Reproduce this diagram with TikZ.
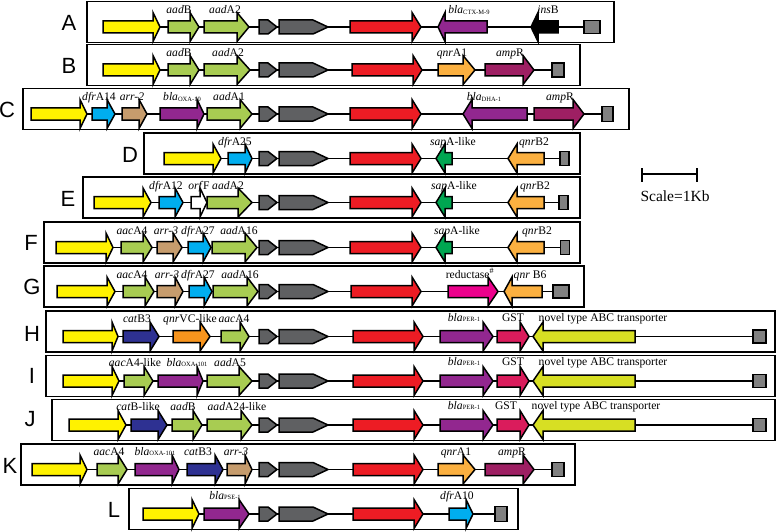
\documentclass[tikz,border=0pt]{standalone}
\usepackage{fontspec}
\setmainfont{Liberation Serif}
\newfontfamily\rowfont{Liberation Sans}
\usepackage{tikz}
\usetikzlibrary{positioning}
\definecolor{intyellow}{RGB}{255,242,0}
\definecolor{aadgreen}{RGB}{168,204,82}
\definecolor{tnpgray}{RGB}{95,96,98}
\definecolor{mercred}{RGB}{237,28,36}
\definecolor{blapurple}{RGB}{146,39,143}
\definecolor{qnrorange}{RGB}{251,176,64}
\definecolor{ampmaroon}{RGB}{158,31,99}
\definecolor{dfrblue}{RGB}{0,174,239}
\definecolor{arrtan}{RGB}{198,156,109}
\definecolor{sapgreen}{RGB}{0,166,81}
\definecolor{redpink}{RGB}{236,0,140}
\definecolor{catnavy}{RGB}{46,49,146}
\definecolor{vcorange}{RGB}{247,148,29}
\definecolor{gstred}{RGB}{218,28,92}
\definecolor{abcyellow}{RGB}{215,223,35}
\definecolor{endgray}{RGB}{128,128,128}
\tikzset{
    gene map/.style={
            x=1pt,y=-1pt,
            gene/.style={draw=black,line width=1.5pt},
            backbone/.style={draw,line width=1.6pt},
            rowbox/.style={draw,line width=1.8pt},
            rowname/.style={font=\rowfont\fontsize{22}{22}\selectfont},
            genename/.style={anchor=base,inner sep=0pt,font=\fontsize{11.6}{12}\selectfont},
            endbox/.style={draw,line width=1.5pt,fill=endgray,inner sep=0pt}
        }
    }
% forward gene: start, head base, tip, row y, colour
\newcommand{\fwdgene}[5]{\filldraw[gene,fill=#5] (#1,#4-6) -- (#2,#4-6) -- (#2,#4-14.5) -- (#3,#4) -- (#2,#4+14.5) -- (#2,#4+6) -- (#1,#4+6) -- cycle;}
% reverse gene: tip, head base, end, row y, colour
\newcommand{\revgene}[5]{\filldraw[gene,fill=#5] (#3,#4-6) -- (#2,#4-6) -- (#2,#4-14.5) -- (#1,#4) -- (#2,#4+14.5) -- (#2,#4+6) -- (#3,#4+6) -- cycle;}
% the two grey genes and the red one
\newcommand{\tnpcore}[4]{%
  \filldraw[gene,fill=tnpgray] (259,#1-7) -- (268,#1-7) -- (277,#1) -- (268,#1+7) -- (259,#1+7) -- cycle;
  \filldraw[gene,fill=tnpgray] (279,#1-7) -- (313,#1-7) -- (328,#1) -- (313,#1+7) -- (279,#1+7) -- cycle;
  \fwdgene{#2}{#3}{#4}{#1}{mercred}}
\newcommand{\blasub}[1]{\textit{bla}\raisebox{-0.8pt}{\fontsize{6.5}{7}\selectfont #1}}

\begin{document}
\begin{tikzpicture}[gene map]
    \useasboundingbox (0,0) rectangle (778,532);
    % A
    \node[rowname] (A) at (69,23) {A};
    \draw[rowbox] (87,1.5) rectangle (614,42.5);
    \coordinate (A-start) at (103,27);
    \node[endbox,minimum width=16pt,minimum height=13pt] (A-end) at (592,27) {};
    \draw[backbone] (A-start) -- (A-end);
    \fwdgene{103}{153}{160}{27}{intyellow}
    \fwdgene{168}{190}{199}{27}{aadgreen}
    \fwdgene{204}{237}{249}{27}{aadgreen}
    \tnpcore{27}{350}{412}{421}
    \revgene{438}{445}{487}{27}{blapurple}
    \revgene{531}{538}{558}{27}{black}
    \node[genename] (A-aadB) at (179,13.5) {\textit{aad}B};
    \node[genename] (A-aadA2) at (225,13.5) {\textit{aad}A2};
    \node[genename] (A-bla) at (469,13.5) {\blasub{CTX-M-9}};
    \node[genename] (A-insB) at (548,13.5) {\textit{ins}B};
    % B
    \node[rowname] (B) at (69,66) {B};
    \draw[rowbox] (87,44.5) rectangle (580,85.5);
    \coordinate (B-start) at (103,70);
    \node[endbox,minimum width=12pt,minimum height=14pt] (B-end) at (558,70) {};
    \draw[backbone] (B-start) -- (B-end);
    \fwdgene{103}{153}{160}{70}{intyellow}
    \fwdgene{168}{190}{199}{70}{aadgreen}
    \fwdgene{204}{237}{250}{70}{aadgreen}
    \tnpcore{70}{352}{413}{422}
    \fwdgene{438}{463}{475}{70}{qnrorange}
    \fwdgene{485}{523}{534}{70}{ampmaroon}
    \node[genename] (B-aadB) at (179,56.5) {\textit{aad}B};
    \node[genename] (B-aadA2) at (228,56.5) {\textit{aad}A2};
    \node[genename] (B-qnrA1) at (452,56.5) {\textit{qnr}A1};
    \node[genename] (B-ampR) at (510,56.5) {\textit{amp}R};
    % C
    \node[rowname] (C) at (7,110) {C};
    \draw[rowbox] (23,88.5) rectangle (629,129.5);
    \coordinate (C-start) at (31,114);
    \node[endbox,minimum width=11pt,minimum height=15pt] (C-end) at (607.5,114) {};
    \draw[backbone] (C-start) -- (C-end);
    \fwdgene{31}{80}{87}{114}{intyellow}
    \fwdgene{92}{107}{115}{114}{dfrblue}
    \fwdgene{122}{139}{147}{114}{arrtan}
    \fwdgene{160}{197}{204}{114}{blapurple}
    \fwdgene{207}{240}{252}{114}{aadgreen}
    \tnpcore{114}{350}{412}{421}
    \revgene{463}{472}{527}{114}{blapurple}
    \fwdgene{534}{573}{584}{114}{ampmaroon}
    \node[genename] (C-dfrA14) at (99,100.5) {\textit{dfr}A14};
    \node[genename] (C-arr2) at (132,100.5) {\textit{arr-2}};
    \node[genename] (C-bla) at (182,100.5) {\blasub{OXA-10}};
    \node[genename] (C-aadA1) at (229,100.5) {\textit{aad}A1};
    \node[genename] (C-bla2) at (484,100.5) {\blasub{DHA-1}};
    \node[genename] (C-ampR) at (560,100.5) {\textit{amp}R};
    % D
    \node[rowname] (D) at (130,155) {D};
    \draw[rowbox] (144,133) rectangle (580,174);
    \coordinate (D-start) at (164,158.5);
    \node[endbox,minimum width=9pt,minimum height=14pt] (D-end) at (564.5,158.5) {};
    \draw[backbone] (D-start) -- (D-end);
    \fwdgene{164}{213}{221}{158.5}{intyellow}
    \fwdgene{228}{245}{252}{158.5}{dfrblue}
    \tnpcore{158.5}{350}{412}{421}
    \revgene{436}{445}{452}{158.5}{sapgreen}
    \revgene{508}{517}{544}{158.5}{qnrorange}
    \node[genename] (D-dfrA25) at (235,145) {\textit{dfr}A25};
    \node[genename] (D-sapA) at (453,145) {\textit{sap}A-like};
    \node[genename] (D-qnrB2) at (534,145) {\textit{qnr}B2};
    % E
    \node[rowname] (E) at (68,199) {E};
    \draw[rowbox] (83,177) rectangle (580,218);
    \coordinate (E-start) at (94,202.5);
    \node[endbox,minimum width=9pt,minimum height=14pt] (E-end) at (563.5,202.5) {};
    \draw[backbone] (E-start) -- (E-end);
    \fwdgene{94}{143}{151}{202.5}{intyellow}
    \fwdgene{159}{175}{183}{202.5}{dfrblue}
    \fwdgene{191}{200}{207}{202.5}{white}
    \fwdgene{207}{238}{252}{202.5}{aadgreen}
    \tnpcore{202.5}{350}{412}{421}
    \revgene{436}{445}{452}{202.5}{sapgreen}
    \revgene{508}{517}{544}{202.5}{qnrorange}
    \node[genename] (E-dfrA12) at (166,189) {\textit{dfr}A12};
    \node[genename] (E-orfF) at (199,189) {\textit{orf}F};
    \node[genename] (E-aadA2) at (228,189) {\textit{aad}A2};
    \node[genename] (E-sapA) at (454,189) {\textit{sap}A-like};
    \node[genename] (E-qnrB2) at (535,189) {\textit{qnr}B2};
    % F
    \node[rowname] (F) at (31,243) {F};
    \draw[rowbox] (44,222) rectangle (580,263);
    \coordinate (F-start) at (56,247.5);
    \node[endbox,minimum width=9pt,minimum height=14pt] (F-end) at (565,247.5) {};
    \draw[backbone] (F-start) -- (F-end);
    \fwdgene{56}{106}{113}{247.5}{intyellow}
    \fwdgene{121}{143}{152}{247.5}{aadgreen}
    \fwdgene{157}{173}{182}{247.5}{arrtan}
    \fwdgene{188}{203}{211}{247.5}{dfrblue}
    \fwdgene{212}{245}{257}{247.5}{aadgreen}
    \tnpcore{247.5}{350}{412}{421}
    \revgene{436}{445}{452}{247.5}{sapgreen}
    \revgene{508}{517}{544}{247.5}{qnrorange}
    \node[genename] (F-aacA4) at (132,234) {\textit{aac}A4};
    \node[genename] (F-arr3) at (166,234) {\textit{arr-3}};
    \node[genename] (F-dfrA27) at (198,234) {\textit{dfr}A27};
    \node[genename] (F-aadA16) at (239,234) {\textit{aad}A16};
    \node[genename] (F-sapA) at (457,234) {\textit{sap}A-like};
    \node[genename] (F-qnrB2) at (537,234) {\textit{qnr}B2};
    % G
    \node[rowname] (G) at (32,287) {G};
    \draw[rowbox] (44,266) rectangle (584,307);
    \coordinate (G-start) at (57,291.5);
    \node[endbox,minimum width=16pt,minimum height=13pt] (G-end) at (561,291.5) {};
    \draw[backbone] (G-start) -- (G-end);
    \fwdgene{57}{107}{115}{291.5}{intyellow}
    \fwdgene{123}{145}{154}{291.5}{aadgreen}
    \fwdgene{157}{175}{183}{291.5}{arrtan}
    \fwdgene{189}{204}{212}{291.5}{dfrblue}
    \fwdgene{213}{247}{258}{291.5}{aadgreen}
    \tnpcore{291.5}{351}{412}{421}
    \fwdgene{448}{488}{498}{291.5}{redpink}
    \revgene{504}{512}{542}{291.5}{qnrorange}
    \node[genename] (G-aacA4) at (132,278) {\textit{aac}A4};
    \node[genename] (G-arr3) at (167,278) {\textit{arr-3}};
    \node[genename] (G-dfrA27) at (198,278) {\textit{dfr}A27};
    \node[genename] (G-aadA16) at (240,278) {\textit{aad}A16};
    \node[genename] (G-red) at (470,278) {reductase$^{\#}$};
    \node[genename] (G-qnrB6) at (530,278) {\textit{qnr} B6};
    % H
    \node[rowname] (H) at (32,334) {H};
    \draw[rowbox] (46,311) rectangle (775,352);
    \coordinate (H-start) at (63,336.5);
    \node[endbox,minimum width=13pt,minimum height=13pt] (H-end) at (759.5,336.5) {};
    \draw[backbone] (H-start) -- (H-end);
    \fwdgene{63}{112}{118}{336.5}{intyellow}
    \fwdgene{123}{150}{159}{336.5}{catnavy}
    \fwdgene{173}{200}{210}{336.5}{vcorange}
    \fwdgene{221}{240}{249}{336.5}{aadgreen}
    \tnpcore{336.5}{353}{414}{423}
    \fwdgene{440}{483}{493}{336.5}{blapurple}
    \fwdgene{497}{520}{529}{336.5}{gstred}
    \revgene{533}{543}{635}{336.5}{abcyellow}
    \node[genename] (H-catB3) at (137,322) {\textit{cat}B3};
    \node[genename] (H-qnrVC) at (190,322) {\textit{qnr}VC-like};
    \node[genename] (H-aacA4) at (234,322) {\textit{aac}A4};
    \node[genename] (H-bla) at (464,321) {\blasub{PER-1}};
    \node[genename] (H-GST) at (513,321) {GST};
    \node[genename] (H-abc) at (603,321) {novel type ABC transporter};
    % I
    \node[rowname] (I) at (32,376) {I};
    \draw[rowbox] (46,355.5) rectangle (775,396.5);
    \coordinate (I-start) at (63,381);
    \node[endbox,minimum width=13pt,minimum height=13pt] (I-end) at (759.5,381) {};
    \draw[backbone] (I-start) -- (I-end);
    \fwdgene{63}{112}{119}{381}{intyellow}
    \fwdgene{124}{144}{153}{381}{aadgreen}
    \fwdgene{158}{197}{203}{381}{blapurple}
    \fwdgene{207}{239}{252}{381}{aadgreen}
    \tnpcore{381}{353}{414}{423}
    \fwdgene{440}{483}{493}{381}{blapurple}
    \fwdgene{497}{520}{529}{381}{gstred}
    \revgene{533}{543}{635}{381}{abcyellow}
    \node[genename] (I-aacA4) at (135,366) {\textit{aac}A4-like};
    \node[genename] (I-bla) at (187,366) {\blasub{OXA-101}};
    \node[genename] (I-aadA5) at (230,366) {\textit{aad}A5};
    \node[genename] (I-bla2) at (464,365) {\blasub{PER-1}};
    \node[genename] (I-GST) at (513,365) {GST};
    \node[genename] (I-abc) at (603,365) {novel type ABC transporter};
    % J
    \node[rowname] (J) at (30,419) {J};
    \draw[rowbox] (52,399.5) rectangle (775,440.5);
    \coordinate (J-start) at (69,425);
    \node[endbox,minimum width=13pt,minimum height=13pt] (J-end) at (759.5,425) {};
    \draw[backbone] (J-start) -- (J-end);
    \fwdgene{69}{118}{126}{425}{intyellow}
    \fwdgene{131}{158}{167}{425}{catnavy}
    \fwdgene{172}{193}{202}{425}{aadgreen}
    \fwdgene{207}{241}{252}{425}{aadgreen}
    \tnpcore{425}{353}{414}{423}
    \fwdgene{440}{483}{493}{425}{blapurple}
    \fwdgene{497}{520}{529}{425}{gstred}
    \revgene{533}{543}{635}{425}{abcyellow}
    \node[genename] (J-catB) at (138,410) {\textit{cat}B-like};
    \node[genename] (J-aadB) at (183,410) {\textit{aad}B};
    \node[genename] (J-aadA24) at (237,410) {\textit{aad}A24-like};
    \node[genename] (J-bla) at (464,409) {\blasub{PER-1}};
    \node[genename] (J-GST) at (506,409) {GST};
    \node[genename] (J-abc) at (596,409) {novel type ABC transporter};
    % K
    \node[rowname] (K) at (10,466) {K};
    \draw[rowbox] (21,444) rectangle (575,485);
    \coordinate (K-start) at (32,469.5);
    \node[endbox,minimum width=12pt,minimum height=14pt] (K-end) at (558,469.5) {};
    \draw[backbone] (K-start) -- (K-end);
    \fwdgene{32}{80}{87}{469.5}{intyellow}
    \fwdgene{97}{118}{127}{469.5}{aadgreen}
    \fwdgene{135}{172}{179}{469.5}{blapurple}
    \fwdgene{187}{215}{223}{469.5}{catnavy}
    \fwdgene{227}{245}{252}{469.5}{arrtan}
    \tnpcore{469.5}{353}{414}{423}
    \fwdgene{438}{463}{475}{469.5}{qnrorange}
    \fwdgene{485}{523}{534}{469.5}{ampmaroon}
    \node[genename] (K-aacA4) at (109,455) {\textit{aac}A4};
    \node[genename] (K-bla) at (155,455) {\blasub{OXA-101}};
    \node[genename] (K-catB3) at (198,455) {\textit{cat}B3};
    \node[genename] (K-arr3) at (236,455) {\textit{arr-3}};
    \node[genename] (K-qnrA1) at (456,455) {\textit{qnr}A1};
    \node[genename] (K-ampR) at (512,455) {\textit{amp}R};
    % L
    \node[rowname] (L) at (114,510) {L};
    \draw[rowbox] (129,488.5) rectangle (518,529.5);
    \coordinate (L-start) at (143,514);
    \node[endbox,minimum width=12pt,minimum height=15pt] (L-end) at (501,514) {};
    \draw[backbone] (L-start) -- (L-end);
    \fwdgene{143}{192}{199}{514}{intyellow}
    \fwdgene{204}{239}{249}{514}{blapurple}
    \tnpcore{514}{353}{414}{423}
    \fwdgene{449}{466}{473}{514}{dfrblue}
    \node[genename] (L-bla) at (225,499) {\blasub{PSE-1}};
    \node[genename] (L-dfrA10) at (457,499) {\textit{dfr}A10};
    % scale bar
    \coordinate (scale-l) at (642,174);
    \coordinate (scale-r) at (697,174);
    \draw[backbone] (scale-l) -- (scale-r);
    \draw[backbone] ([yshift=6pt]scale-l) -- ([yshift=-8pt]scale-l);
    \draw[backbone] ([yshift=6pt]scale-r) -- ([yshift=-8pt]scale-r);
    \node[font=\fontsize{15.5}{16}\selectfont] (scale) at (675,196) {Scale=1Kb};
\end{tikzpicture}
\end{document}
